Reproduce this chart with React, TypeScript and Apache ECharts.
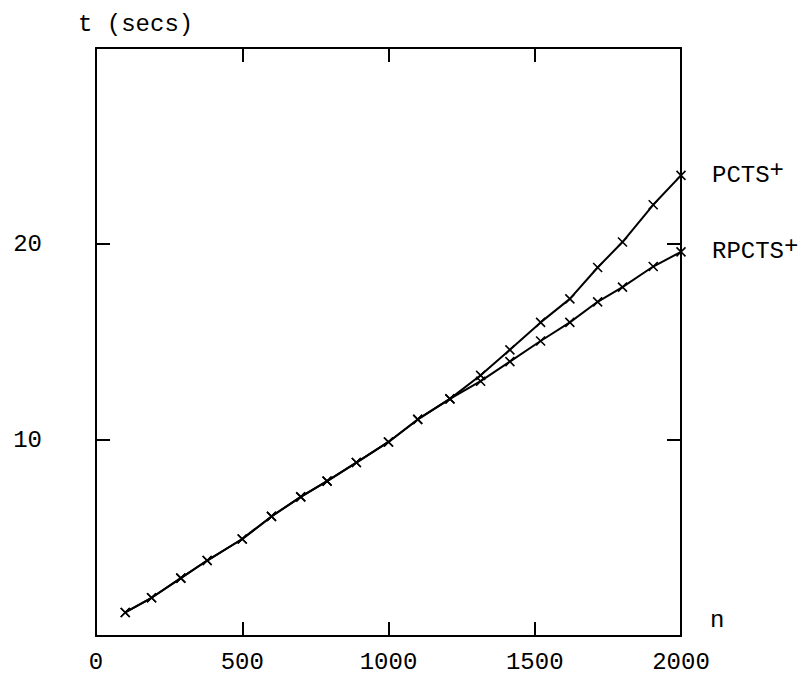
import React, { useEffect, useRef } from "react";
import * as echarts from "echarts";

const nValues = [100, 190, 290, 380, 500, 600, 700, 790, 890, 1000, 1100, 1210, 1315, 1415, 1520, 1620, 1715, 1800, 1905, 2000];
const pctsValues = [1.2, 1.95, 2.95, 3.85, 4.95, 6.1, 7.1, 7.9, 8.85, 9.9, 11.05, 12.1, 13.3, 14.6, 16.0, 17.2, 18.8, 20.1, 22.0, 23.5];
const rpctsValues = [1.2, 1.95, 2.95, 3.85, 4.95, 6.1, 7.1, 7.9, 8.85, 9.9, 11.05, 12.1, 13.0, 14.0, 15.05, 16.0, 17.05, 17.8, 18.85, 19.6];
const seriesNames = ["PCTS", "RPCTS"];
const xTickLabels = ["0", "500", "1000", "1500", "2000"];
const yTickLabels = ["10", "20"];

const FONT = "Liberation Mono";
const CROSS = "path://M0,0L10,10M10,0L0,10";

export default function App() {
  const ref = useRef<HTMLDivElement>(null);
  useEffect(() => {
    if (!ref.current) return;
    const chart = echarts.init(ref.current, undefined, { renderer: "svg" });
    const axisLine = () => ({ show: true, onZero: false, lineStyle: { color: "#000", width: 2 } });
    const axisTick = () => ({ show: true, inside: true, length: 14, lineStyle: { color: "#000", width: 2 } });
    const mk = (name: string, vals: number[]) => ({
      type: "line",
      name,
      data: nValues.map((n, i) => [n, vals[i]]),
      symbol: CROSS,
      symbolSize: 9,
      itemStyle: { color: "#000", borderColor: "#000", borderWidth: 1.6 },
      lineStyle: { color: "#000", width: 2 },
      endLabel: {
        show: true,
        distance: 31,
        formatter: () => `{a|${name}}{b|+}`,
        rich: {
          a: { fontFamily: FONT, fontSize: 24, color: "#000" },
          b: { fontFamily: FONT, fontSize: 24, color: "#000", padding: [0, 0, 10, 0] },
        },
      },
    });
    chart.setOption({
      animation: false,
      backgroundColor: "#fff",
      grid: { left: 96, right: 129, top: 48, bottom: 39 },
      xAxis: [
        {
          type: "value",
          min: 0,
          max: 2000,
          interval: 500,
          position: "bottom",
          axisLine: axisLine(),
          axisTick: axisTick(),
          splitLine: { show: false },
          axisLabel: {
            fontFamily: FONT,
            fontSize: 24,
            color: "#000",
            margin: 14,
            formatter: (v: number) => (xTickLabels.includes(String(v)) ? String(v) : ""),
          },
          name: "n",
          nameLocation: "end",
          nameGap: 29,
          nameTextStyle: { fontFamily: FONT, fontSize: 24, color: "#000", align: "left", verticalAlign: "bottom", padding: [0, 0, 4, 0] },
        },
        {
          type: "value",
          min: 0,
          max: 2000,
          interval: 500,
          position: "top",
          axisLine: axisLine(),
          axisTick: axisTick(),
          splitLine: { show: false },
          axisLabel: { show: false },
        },
      ],
      yAxis: [
        {
          type: "value",
          min: 0,
          max: 30,
          interval: 10,
          position: "left",
          axisLine: axisLine(),
          axisTick: axisTick(),
          splitLine: { show: false },
          axisLabel: {
            fontFamily: FONT,
            fontSize: 24,
            color: "#000",
            margin: 54,
            formatter: (v: number) => (yTickLabels.includes(String(v)) ? String(v) : ""),
          },
        },
        {
          type: "value",
          min: 0,
          max: 30,
          interval: 10,
          position: "right",
          axisLine: axisLine(),
          axisTick: axisTick(),
          splitLine: { show: false },
          axisLabel: { show: false },
        },
      ],
      graphic: [
        {
          type: "text",
          left: 78,
          top: 12,
          style: { text: "t (secs)", fontFamily: FONT, fontSize: 24, fill: "#000" },
        },
      ],
      series: [mk(seriesNames[0], pctsValues), mk(seriesNames[1], rpctsValues)],
    });
    return () => chart.dispose();
  }, []);
  return <div ref={ref} style={{ position: "fixed", left: 0, top: 0, width: 810, height: 675 }} />;
}
